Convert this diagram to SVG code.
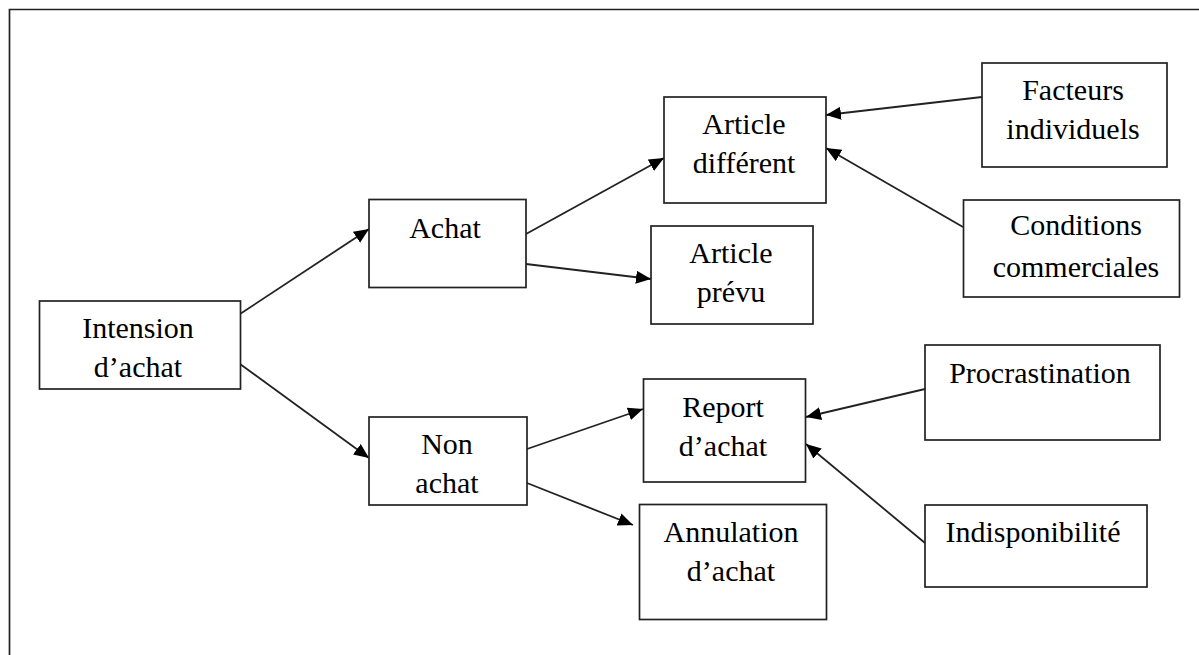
<svg xmlns="http://www.w3.org/2000/svg" width="1199" height="655" viewBox="0 0 1199 655">
<defs>
<style>
.box{fill:#fff;stroke:#222;stroke-width:1.7}
.lbl{font-family:"Liberation Serif","Times New Roman",serif;font-size:30px;fill:#000;text-anchor:middle}
.con{fill:none;stroke:#222;stroke-width:1.8}
</style>
<marker id="arr" markerUnits="userSpaceOnUse" markerWidth="16" markerHeight="14" refX="15" refY="6.5" orient="auto">
<path d="M0,0 L15,6.5 L0,13 z" fill="#000"/>
</marker>
</defs>
<rect width="1199" height="655" fill="#fff"/>
<path d="M9.5,655 V9.5 H1199" fill="none" stroke="#222" stroke-width="1.7"/>
<g id="connectors">
<line class="con" x1="240" y1="314" x2="369" y2="229" marker-end="url(#arr)"/>
<line class="con" x1="240" y1="364" x2="369" y2="458" marker-end="url(#arr)"/>
<line class="con" x1="526" y1="234" x2="664" y2="158" marker-end="url(#arr)"/>
<line class="con" x1="526" y1="264" x2="651" y2="279" marker-end="url(#arr)"/>
<line class="con" x1="527" y1="449" x2="643" y2="409" marker-end="url(#arr)"/>
<line class="con" x1="527" y1="483" x2="633" y2="525" marker-end="url(#arr)"/>
<line class="con" x1="982" y1="97" x2="826" y2="115" marker-end="url(#arr)"/>
<line class="con" x1="963" y1="227" x2="826" y2="148" marker-end="url(#arr)"/>
<line class="con" x1="925" y1="389" x2="806" y2="417" marker-end="url(#arr)"/>
<line class="con" x1="925" y1="543" x2="806" y2="444" marker-end="url(#arr)"/>
</g>
<g id="intension">
<rect class="box" x="39.5" y="301" width="201" height="88"/>
<text class="lbl" x="138" y="338">Intension</text>
<text class="lbl" x="138" y="377">d’achat</text>
</g>
<g id="achat">
<rect class="box" x="369" y="199.5" width="157" height="88"/>
<text class="lbl" x="445" y="238">Achat</text>
</g>
<g id="non-achat">
<rect class="box" x="369" y="417" width="158" height="88"/>
<text class="lbl" x="447" y="454">Non</text>
<text class="lbl" x="447" y="493">achat</text>
</g>
<g id="article-different">
<rect class="box" x="664" y="97" width="162" height="106"/>
<text class="lbl" x="744" y="134">Article</text>
<text class="lbl" x="744" y="173">différent</text>
</g>
<g id="article-prevu">
<rect class="box" x="651" y="226" width="162" height="98"/>
<text class="lbl" x="731" y="263">Article</text>
<text class="lbl" x="731" y="302">prévu</text>
</g>
<g id="report">
<rect class="box" x="643.5" y="379" width="162" height="103"/>
<text class="lbl" x="723" y="417">Report</text>
<text class="lbl" x="723" y="456">d’achat</text>
</g>
<g id="annulation">
<rect class="box" x="639.5" y="504.5" width="187" height="115"/>
<text class="lbl" x="731" y="542">Annulation</text>
<text class="lbl" x="731" y="581">d’achat</text>
</g>
<g id="facteurs">
<rect class="box" x="982" y="63" width="185" height="104"/>
<text class="lbl" x="1073" y="100">Facteurs</text>
<text class="lbl" x="1073" y="139">individuels</text>
</g>
<g id="conditions">
<rect class="box" x="963.5" y="200" width="216" height="97"/>
<text class="lbl" x="1076" y="235">Conditions</text>
<text class="lbl" x="1076" y="277">commerciales</text>
</g>
<g id="procrastination">
<rect class="box" x="925" y="345" width="235" height="95"/>
<text class="lbl" x="1040" y="383">Procrastination</text>
</g>
<g id="indisponibilite">
<rect class="box" x="925" y="505" width="222" height="82"/>
<text class="lbl" x="1033" y="542">Indisponibilité</text>
</g>
</svg>
